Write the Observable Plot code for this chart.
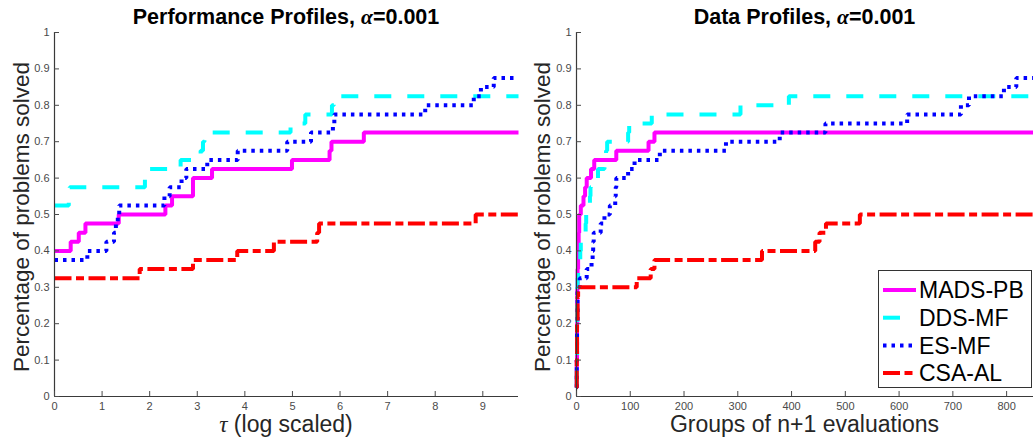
<!DOCTYPE html>
<html>
<head>
<meta charset="utf-8">
<script src="https://cdn.jsdelivr.net/npm/d3@7"></script>
<script src="https://cdn.jsdelivr.net/npm/@observablehq/plot@0.6"></script>
<style>
  html, body { margin: 0; padding: 0; background: #fff; }
  #wrap { position: relative; width: 1033px; height: 448px; overflow: hidden; font-family: "Liberation Sans", Arial, sans-serif; }
  .panel { position: absolute; top: 0; }
  .title { position: absolute; text-align: center; font-weight: bold; font-size: 21.5px; line-height: 22px; color: #000; white-space: nowrap; }
  .xlab { position: absolute; text-align: center; font-size: 23px; line-height: 18px; color: #262626; white-space: nowrap; }
  .ylab { position: absolute; text-align: center; font-size: 22.5px; color: #262626; white-space: nowrap; transform: rotate(-90deg); transform-origin: center center; }
  .math { font-family: "Liberation Serif", "DejaVu Serif", serif; font-style: italic; }
  #legend { position: absolute; left: 878px; top: 270px; width: 152px; height: 116px; background: #fff; border: 1px solid #333; }
</style>
</head>
<body>
<div id="wrap">
  <div id="left" class="panel" style="left:0px"></div>
  <div id="right" class="panel" style="left:520px"></div>
  <div class="title" style="left:54px;width:464px;top:6px;">Performance Profiles, <span class="math">α</span>=0.001</div>
  <div class="title" style="left:576px;width:457px;top:6px;">Data Profiles, <span class="math">α</span>=0.001</div>
  <div class="ylab" style="left:-163px;top:203px;width:370px;height:28px;line-height:28px;">Percentage of problems solved</div>
  <div class="ylab" style="left:358px;top:203px;width:370px;height:28px;line-height:28px;">Percentage of problems solved</div>
  <div class="xlab" style="left:54px;width:464px;top:415px;"><span class="math">τ</span> (log scaled)</div>
  <div class="xlab" style="left:576px;width:457px;top:415px;">Groups of n+1 evaluations</div>
  <div id="legend"></div>
</div>
<script>
// ---------------- data ----------------
const seriesNames = ["MADS-PB", "DDS-MF", "ES-MF", "CSA-AL"];

const yTicks = [0, 0.1, 0.2, 0.3, 0.4, 0.5, 0.6, 0.7, 0.8, 0.9, 1];
const perfXTicks = [0, 1, 2, 3, 4, 5, 6, 7, 8, 9];
const dataXTicks = [0, 100, 200, 300, 400, 500, 600, 700, 800];
const perfXMax = 9.75;
const dataXMax = 850;

// Performance profiles: [tau, fraction solved]
const perfMADS = [[0,0.4],[0.34,0.425],[0.51,0.45],[0.65,0.475],[1.35,0.5],[2.33,0.525],[2.47,0.55],[2.91,0.6],[3.31,0.625],[4.99,0.65],[5.78,0.675],[5.82,0.7],[6.5,0.725],[9.75,0.725]];
const perfDDS  = [[0,0.525],[0.3,0.55],[0.32,0.575],[1.9,0.6],[1.95,0.625],[2.65,0.65],[3.07,0.675],[3.12,0.7],[3.15,0.725],[4.96,0.75],[5.27,0.775],[5.83,0.8],[5.87,0.825],[9.75,0.825]];
const perfES   = [[0,0.375],[0.69,0.4],[1.09,0.425],[1.25,0.45],[1.29,0.475],[1.33,0.5],[1.36,0.525],[2.31,0.55],[2.42,0.575],[2.67,0.6],[2.77,0.625],[3.21,0.65],[3.85,0.675],[4.89,0.7],[5.39,0.725],[5.85,0.75],[5.88,0.775],[7.79,0.8],[8.81,0.825],[8.96,0.85],[9.23,0.875],[9.75,0.875]];
const perfCSA  = [[0,0.325],[1.79,0.35],[2.91,0.375],[3.84,0.4],[4.61,0.425],[5.52,0.45],[5.56,0.475],[8.85,0.5],[9.75,0.5]];

// Data profiles: [groups of n+1 evaluations, fraction solved]
const dataMADS = [[0,0.025],[0.5,0.1],[1,0.2],[1.5,0.3],[2,0.35],[3,0.4],[4,0.45],[5,0.5],[8,0.525],[13,0.55],[16,0.575],[19,0.6],[27,0.625],[33,0.65],[74,0.675],[134,0.7],[145,0.725],[850,0.725]];
const dataDDS  = [[0,0.025],[0.5,0.1],[1,0.2],[1.3,0.3],[2,0.325],[3,0.35],[5,0.375],[7,0.4],[8,0.425],[9,0.45],[17,0.475],[18,0.5],[19,0.525],[25,0.55],[26,0.575],[27,0.6],[40,0.625],[52,0.65],[55,0.675],[57,0.7],[96,0.725],[98,0.75],[140,0.775],[305,0.8],[395,0.825],[850,0.825]];
const dataES   = [[0,0.025],[0.5,0.1],[1,0.2],[2,0.3],[6,0.325],[19,0.35],[28,0.375],[30,0.4],[31,0.425],[32,0.45],[45,0.475],[52,0.5],[62,0.525],[72,0.55],[73,0.575],[74,0.6],[96,0.625],[108,0.65],[155,0.675],[278,0.7],[378,0.725],[463,0.75],[615,0.775],[715,0.8],[730,0.825],[795,0.85],[818,0.875],[850,0.875]];
const dataCSA  = [[0,0.025],[0.5,0.1],[1,0.2],[2,0.275],[3,0.3],[112,0.325],[138,0.35],[145,0.375],[345,0.4],[444,0.425],[452,0.45],[464,0.475],[527,0.5],[850,0.5]];

// ---------------- styles ----------------
const styles = {
  "MADS-PB": {stroke: "#ff00ff", strokeWidth: 4, strokeDasharray: null},
  "DDS-MF":  {stroke: "#00ffff", strokeWidth: 4, strokeDasharray: "17,16"},
  "ES-MF":   {stroke: "#0000ff", strokeWidth: 4, strokeDasharray: "3.5,5"},
  "CSA-AL":  {stroke: "#ff0000", strokeWidth: 4, strokeDasharray: "17,4.5,8,4.5"}
};

const toRows = (arr, name) => arr.map(([x, y]) => ({x, y, name}));
const perfSeries = [perfMADS, perfDDS, perfES, perfCSA].map((a, i) => toRows(a, seriesNames[i]));
const dataSeries = [dataMADS, dataDDS, dataES, dataCSA].map((a, i) => toRows(a, seriesNames[i]));

const yFmt = d => String(+d.toFixed(1));
const axisColor = "#3a3a3a";

function panel(series, xDomain, xTicks, width, marginLeft, marginRight) {
  const lineMarks = series.map(rows => {
    const st = styles[rows[0].name];
    return Plot.line(rows, {
      x: "x", y: "y", curve: "step-after",
      stroke: st.stroke, strokeWidth: st.strokeWidth,
      strokeDasharray: st.strokeDasharray, strokeLinecap: "butt", strokeLinejoin: "miter"
    });
  });
  return Plot.plot({
    width, height: 448,
    marginLeft, marginRight, marginTop: 32, marginBottom: 52,
    style: {fontFamily: "'Liberation Sans', Arial, sans-serif", fontSize: "11px", background: "white", overflow: "visible"},
    x: {domain: xDomain},
    y: {domain: [0, 1]},
    marks: [
      ...lineMarks,
      Plot.ruleX([xDomain[0]], {stroke: axisColor, strokeWidth: 1.2}),
      Plot.ruleY([0], {stroke: axisColor, strokeWidth: 1.2}),
      Plot.axisX({ticks: xTicks, tickSize: -5, tickPadding: 11, tickFormat: d => String(d), label: null, color: "#4a4a4a"}),
      Plot.axisY({ticks: yTicks, tickSize: -5, tickPadding: 10, tickFormat: yFmt, label: null, color: "#4a4a4a"})
    ]
  });
}

document.getElementById("left").appendChild(panel(perfSeries, [0, perfXMax], perfXTicks, 520, 54, 2));
document.getElementById("right").appendChild(panel(dataSeries, [0, dataXMax], dataXTicks, 513, 56, 0));

// ---------------- legend ----------------
const leg = document.getElementById("legend");
const rowH = 27.7;
let svg = `<svg width="152" height="116" style="position:absolute;left:0;top:0">`;
seriesNames.forEach((n, i) => {
  const st = styles[n];
  const cy = 19 + i * rowH;
  svg += `<line x1="4" x2="37" y1="${cy}" y2="${cy}" stroke="${st.stroke}" stroke-width="${st.strokeWidth}"` +
         (st.strokeDasharray ? ` stroke-dasharray="${st.strokeDasharray}"` : "") + `/>`;
  svg += `<text x="40" y="${cy}" dy="0.36em" font-size="23" font-family="'Liberation Sans', Arial, sans-serif" fill="#000">${n}</text>`;
});
svg += `</svg>`;
leg.innerHTML = svg;
</script>
</body>
</html>
